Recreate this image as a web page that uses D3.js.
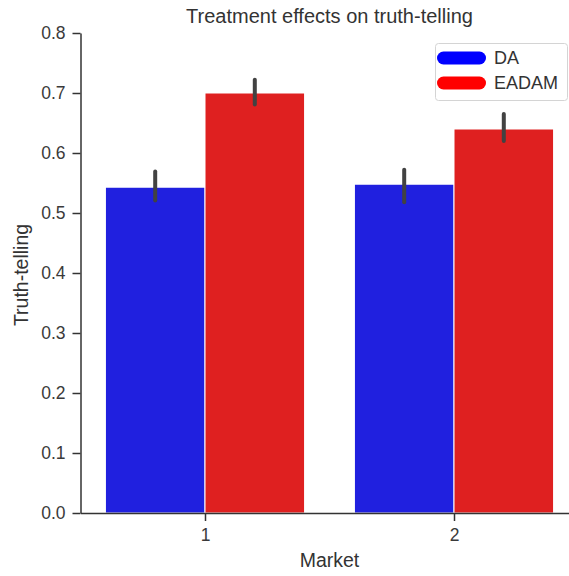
<!DOCTYPE html>
<html>
<head>
  <meta charset="utf-8">
  <title>Treatment effects on truth-telling</title>
  <style>
    body { margin: 0; background: #fff; font-family: 'Liberation Sans', Arial, sans-serif; }
    .axis text { fill: #3a3a3a; font-size: 17.5px; font-family: 'Liberation Sans', Arial, sans-serif; }
    .axis path, .axis line { stroke: #333; stroke-width: 1.5px; }
  </style>
</head>
<body>
  <div id="chart"></div>
  <script src="https://d3js.org/d3.v7.min.js"></script>
  <script>
    // data
    var markets = ["1", "2"];
    var treatments = ["DA", "EADAM"];
    var daMean = [0.543, 0.548];
    var daLow = [0.521, 0.518];
    var daHigh = [0.569, 0.572];
    var eadamMean = [0.700, 0.640];
    var eadamLow = [0.681, 0.620];
    var eadamHigh = [0.722, 0.665];
    var yTicks = [0.0, 0.1, 0.2, 0.3, 0.4, 0.5, 0.6, 0.7, 0.8];

    var barColors = { "DA": "#2020df", "EADAM": "#df2020" };
    var legendColors = { "DA": "#0000ff", "EADAM": "#ff0000" };

    var width = 569, height = 576;
    var margin = { top: 33, left: 80.5, right: -9.5, bottom: 63 };

    var rows = [];
    markets.forEach(function(m, i) {
      rows.push({ market: m, t: "DA", mean: daMean[i], lo: daLow[i], hi: daHigh[i] });
      rows.push({ market: m, t: "EADAM", mean: eadamMean[i], lo: eadamLow[i], hi: eadamHigh[i] });
    });

    var svg = d3.select("#chart").append("svg")
      .attr("width", width)
      .attr("height", height);

    var x = d3.scalePoint()
      .domain(markets)
      .range([margin.left, width - margin.right])
      .padding(0.5);

    var groupW = x.step() * 0.8;
    var x1 = d3.scaleBand()
      .domain(treatments)
      .range([-groupW / 2, groupW / 2]);

    var y = d3.scaleLinear()
      .domain([0, 0.8])
      .range([height - margin.bottom, margin.top]);

    // bars
    svg.append("g").selectAll("rect")
      .data(rows)
      .enter().append("rect")
      .attr("x", function(d) { return x(d.market) + x1(d.t); })
      .attr("y", function(d) { return y(d.mean); })
      .attr("width", x1.bandwidth())
      .attr("height", function(d) { return y(0) - y(d.mean); })
      .attr("fill", function(d) { return barColors[d.t]; })
      .attr("stroke", "#fff")
      .attr("stroke-width", 1);

    // error bars
    svg.append("g").selectAll("line")
      .data(rows)
      .enter().append("line")
      .attr("x1", function(d) { return x(d.market) + x1(d.t) + x1.bandwidth() / 2; })
      .attr("x2", function(d) { return x(d.market) + x1(d.t) + x1.bandwidth() / 2; })
      .attr("y1", function(d) { return y(d.lo); })
      .attr("y2", function(d) { return y(d.hi); })
      .attr("stroke", "#424242")
      .attr("stroke-width", 4)
      .attr("stroke-linecap", "round");

    // axes
    svg.append("g")
      .attr("class", "axis")
      .attr("transform", "translate(" + margin.left + ",0)")
      .call(d3.axisLeft(y).tickValues(yTicks).tickFormat(d3.format(".1f")).tickSizeInner(8).tickSizeOuter(0).tickPadding(7));

    svg.append("g")
      .attr("class", "axis")
      .attr("transform", "translate(0," + y(0) + ")")
      .call(d3.axisBottom(x).tickSizeInner(8).tickSizeOuter(0).tickPadding(8));

    // titles
    var cx = (margin.left + width - margin.right) / 2;
    svg.append("text")
      .attr("x", cx)
      .attr("y", 23)
      .attr("text-anchor", "middle")
      .style("font-size", "20px")
      .style("fill", "#333")
      .text("Treatment effects on truth-telling");

    svg.append("text")
      .attr("x", cx)
      .attr("y", 567)
      .attr("text-anchor", "middle")
      .style("font-size", "19.5px")
      .style("fill", "#333")
      .text("Market");

    svg.append("text")
      .attr("transform", "translate(28,275) rotate(-90)")
      .attr("text-anchor", "middle")
      .style("font-size", "19.5px")
      .style("fill", "#333")
      .text("Truth-telling");

    // legend
    var lg = svg.append("g").attr("transform", "translate(435.5,43.5)");
    lg.append("rect")
      .attr("width", 132)
      .attr("height", 57)
      .attr("rx", 3)
      .attr("fill", "#fff")
      .attr("fill-opacity", 0.8)
      .attr("stroke", "#d4d4d4");

    var items = lg.selectAll("g.item")
      .data(treatments)
      .enter().append("g")
      .attr("class", "item")
      .attr("transform", function(d, i) { return "translate(0," + (14.5 + i * 25) + ")"; });

    items.append("line")
      .attr("x1", 8)
      .attr("x2", 44)
      .attr("stroke", function(d) { return legendColors[d]; })
      .attr("stroke-width", 13)
      .attr("stroke-linecap", "round");

    items.append("text")
      .attr("x", 58.5)
      .attr("dy", "0.36em")
      .style("font-size", "18px")
      .style("fill", "#333")
      .text(function(d) { return d; });
  </script>
</body>
</html>
